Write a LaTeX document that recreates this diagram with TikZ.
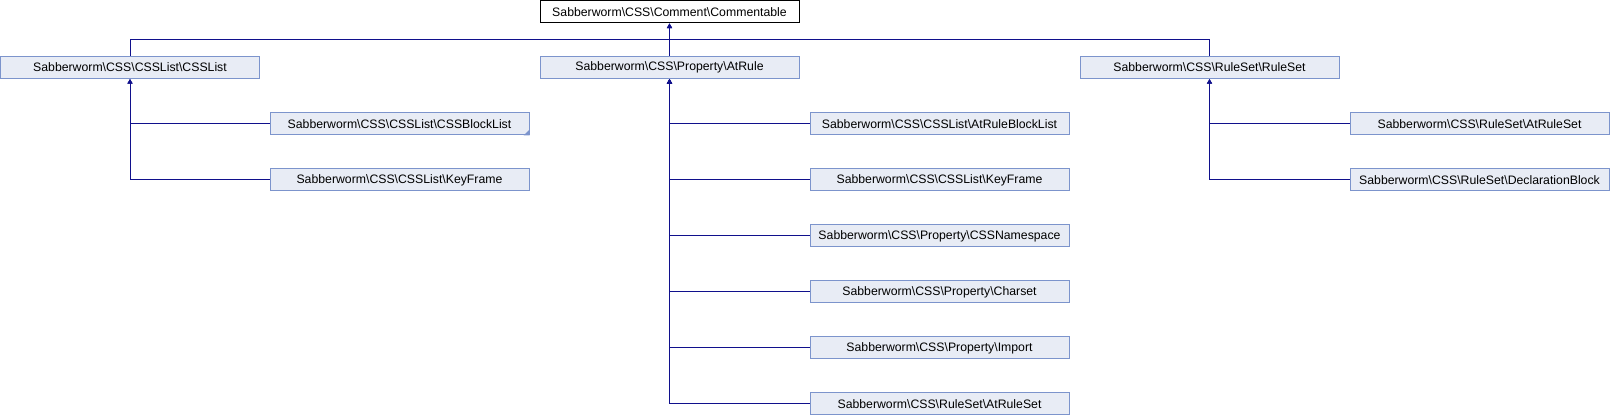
\documentclass[tikz,border=0pt]{standalone}
\usepackage{fontspec}
\setmainfont{Liberation Sans}
\usetikzlibrary{arrows.meta}
\definecolor{boxfill}{RGB}{232,236,245}
\definecolor{boxline}{RGB}{124,148,204}
\definecolor{edgeblue}{RGB}{16,16,140}

\begin{document}
\begin{tikzpicture}[x=0.75pt, y=-0.75pt,
    cls/.style={draw=boxline, fill=boxfill, line width=0.75pt, inner sep=0pt,
        minimum width=194.25pt, minimum height=16.5pt, font=\fontsize{9.2pt}{11pt}\selectfont},
    root/.style={cls, draw=black, fill=white},
    inh/.style={draw=edgeblue, line width=0.75pt, -{Triangle[length=3.5pt, width=3.8pt]}}]
    \useasboundingbox (0, 0) rectangle (1610, 416);

    % Base class
    \node[root] (commentable) at (669.5, 12) {Sabberworm\textbackslash CSS\textbackslash Comment\textbackslash Commentable};

    % Direct subclasses
    \node[cls] (cssList) at (130, 67.5) {Sabberworm\textbackslash CSS\textbackslash CSSList\textbackslash CSSList};
    \node[cls] (atRule) at (669.5, 67.5) {Sabberworm\textbackslash CSS\textbackslash Property\textbackslash AtRule};
    \node[cls] (ruleSet) at (1209.5, 67.5) {Sabberworm\textbackslash CSS\textbackslash RuleSet\textbackslash RuleSet};
    \draw[inh] (cssList.north) -- ++(0, -16) -| (commentable.south);
    \draw[inh] (ruleSet.north) -- ++(0, -16) -| (commentable.south);
    \draw[inh] (atRule.north) -- (commentable.south);

    % CSSList subclasses
    \node[cls] (cssBlockList) at (399.5, 124) {Sabberworm\textbackslash CSS\textbackslash CSSList\textbackslash CSSBlockList};
    \node[cls] (keyFrameA) at (399.5, 180) {Sabberworm\textbackslash CSS\textbackslash CSSList\textbackslash KeyFrame};
    \fill[boxline] (cssBlockList.south east) -- ++(0, -6) -- ++(-6, 6) -- cycle;
    \draw[inh] (keyFrameA.west) -| (cssList.south);
    \draw[inh] (cssBlockList.west) -| (cssList.south);

    % AtRule subclasses
    \node[cls] (atRuleBlockList) at (939.5, 124) {Sabberworm\textbackslash CSS\textbackslash CSSList\textbackslash AtRuleBlockList};
    \node[cls] (keyFrameB) at (939.5, 180) {Sabberworm\textbackslash CSS\textbackslash CSSList\textbackslash KeyFrame};
    \node[cls] (cssNamespace) at (939.5, 236) {Sabberworm\textbackslash CSS\textbackslash Property\textbackslash CSSNamespace};
    \node[cls] (charset) at (939.5, 292) {Sabberworm\textbackslash CSS\textbackslash Property\textbackslash Charset};
    \node[cls] (import) at (939.5, 348) {Sabberworm\textbackslash CSS\textbackslash Property\textbackslash Import};
    \node[cls] (atRuleSetA) at (939.5, 404) {Sabberworm\textbackslash CSS\textbackslash RuleSet\textbackslash AtRuleSet};
    \foreach \child in {atRuleSetA, import, charset, cssNamespace, keyFrameB, atRuleBlockList}
        \draw[inh] (\child.west) -| (atRule.south);

    % RuleSet subclasses
    \node[cls] (atRuleSetB) at (1479.5, 124) {Sabberworm\textbackslash CSS\textbackslash RuleSet\textbackslash AtRuleSet};
    \node[cls] (declBlock) at (1479.5, 180) {Sabberworm\textbackslash CSS\textbackslash RuleSet\textbackslash DeclarationBlock};
    \draw[inh] (declBlock.west) -| (ruleSet.south);
    \draw[inh] (atRuleSetB.west) -| (ruleSet.south);
\end{tikzpicture}
\end{document}
